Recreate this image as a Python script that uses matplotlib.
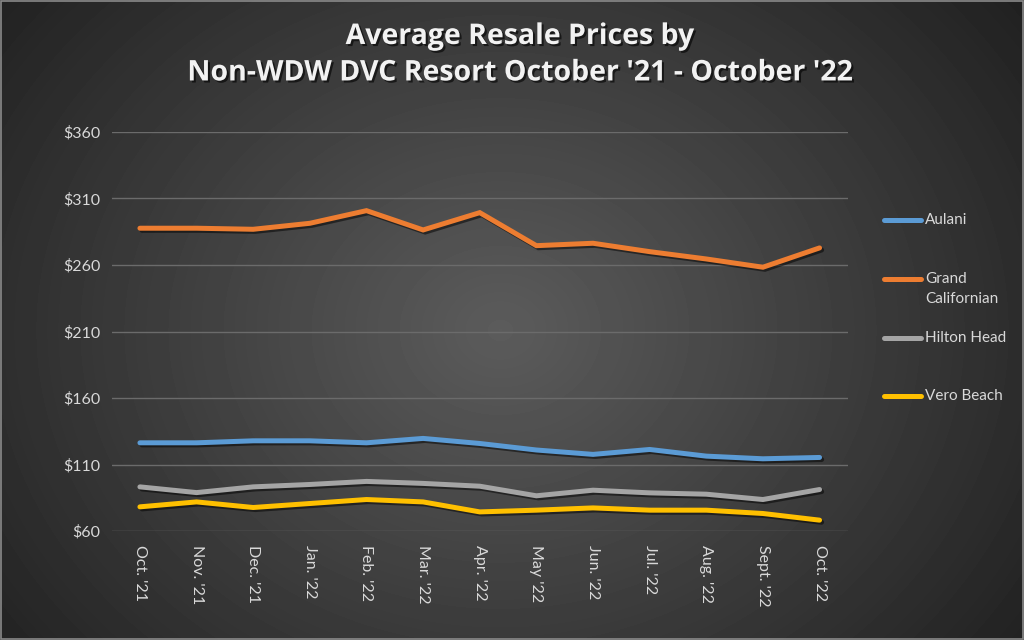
import numpy as np
import matplotlib
matplotlib.use('Agg')
import matplotlib.pyplot as plt
import matplotlib.patheffects as pe
from matplotlib.lines import Line2D

# ── data ───────────────────────────────────────────────────
months = ["Oct. '21", "Nov. '21", "Dec. '21", "Jan. '22", "Feb. '22", "Mar. '22",
          "Apr. '22", "May '22", "Jun. '22", "Jul. '22", "Aug. '22", "Sept. '22",
          "Oct. '22"]
aulani = [126.4, 126.4, 127.9, 127.9, 126.4, 129.7, 125.9, 121.0, 117.7, 121.4,
          116.4, 114.4, 115.4]
grand_californian = [287.6, 287.6, 286.8, 291.3, 300.8, 286.3, 299.3, 274.5,
                     276.3, 270.0, 264.5, 258.3, 272.8]
hilton_head = [93.3, 89.0, 93.3, 95.1, 97.4, 95.9, 93.8, 86.6, 90.8, 88.8,
               87.8, 83.8, 91.3]
vero_beach = [78.3, 82.0, 77.8, 80.8, 83.8, 82.0, 74.5, 75.8, 77.5, 75.8,
              75.8, 73.3, 68.3]

series = [
    ('Aulani', aulani, '#5B9BD5'),
    ('Grand\nCalifornian', grand_californian, '#ED7D31'),
    ('Hilton Head', hilton_head, '#A5A5A5'),
    ('Vero Beach', vero_beach, '#FFC000'),
]
yticks = [60, 110, 160, 210, 260, 310, 360]

plt.rcParams['font.family'] = ['Lato', 'DejaVu Sans']

fig = plt.figure(figsize=(10.24, 6.4), dpi=100)

# radial gradient background
bg = fig.add_axes([0, 0, 1, 1], zorder=-10)
yy, xx = np.mgrid[0:640, 0:1024]
r = np.sqrt(((xx - 500) / 620.0) ** 2 + ((yy - 330) / 520.0) ** 2)
shade = np.clip(0.36 - 0.22 * r, 0.13, 0.36)
bg.imshow(shade, cmap='gray', vmin=0, vmax=1, aspect='auto', extent=[0, 1, 0, 1])
bg.set_xlim(0, 1)
bg.set_ylim(0, 1)
bg.axis('off')
border = plt.Rectangle((0.0005, 0.001), 0.999, 0.998, transform=bg.transAxes,
                       fill=False, edgecolor='#8a8a8a', lw=1.2)
bg.add_patch(border)

ax = fig.add_axes([0.109, 0.170, 0.719, 0.624])
ax.patch.set_alpha(0)
x = np.arange(len(months))
shadow = [pe.SimpleLineShadow(offset=(1.5, -1.5), shadow_color='black', alpha=0.5),
          pe.Normal()]
for name, vals, col in series:
    ax.plot(x, vals, color=col, lw=3.6, solid_capstyle='round',
            solid_joinstyle='miter', path_effects=shadow, zorder=3)

ax.set_xlim(-0.5, len(months) - 0.5)
ax.set_ylim(60, 360)
ax.set_yticks(yticks)
ax.set_yticklabels([f'${v}' for v in yticks])
ax.set_xticks(x)
ax.set_xticklabels(months, rotation=-90, va='top', ha='center')
ax.tick_params(axis='both', length=0, colors='#d9d9d9', labelsize=11.5)
ax.tick_params(axis='y', pad=8)
ax.tick_params(axis='x', pad=10)
ax.grid(axis='y', color='#6b6b6b', lw=1)
ax.set_axisbelow(True)
for s in ax.spines.values():
    s.set_visible(False)

# title
title_fx = [pe.withSimplePatchShadow(offset=(1.5, -1.5), shadow_rgbFace='black', alpha=0.6)]
title_font = ['Open Sans', 'DejaVu Sans']
fig.text(0.508, 0.943, 'Average Resale Prices by', ha='center', va='center',
         fontsize=20.5, fontweight='bold', color='#f2f2f2', family=title_font,
         path_effects=title_fx)
fig.text(0.508, 0.886, "Non-WDW DVC Resort October '21 - October '22", ha='center',
         va='center', fontsize=20.5, fontweight='bold', color='#f2f2f2',
         family=title_font, path_effects=title_fx)

# legend on the right
leg_y = [220, 279, 338, 396]
for (name, vals, col), py in zip(series, leg_y):
    fy = 1 - py / 640
    fig.add_artist(Line2D([884 / 1024, 921 / 1024], [fy, fy], color=col, lw=3.6,
                          solid_capstyle='round', transform=fig.transFigure))
    fig.text(925 / 1024, fy, name.split('\n')[0], ha='left', va='center',
             fontsize=11, color='#d9d9d9')
    if '\n' in name:
        fig.text(925 / 1024, fy - 20 / 640, name.split('\n')[1], ha='left',
                 va='center', fontsize=11, color='#d9d9d9')

fig.savefig('out.png', dpi=100)
